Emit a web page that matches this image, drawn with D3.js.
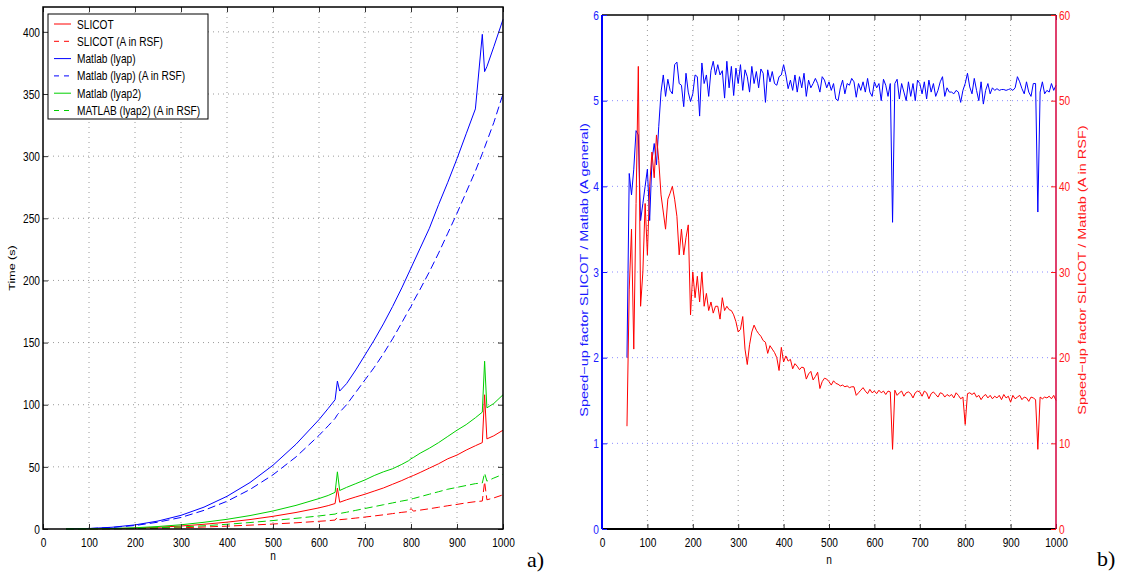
<!DOCTYPE html>
<html>
<head>
<meta charset="utf-8">
<title>SLICOT vs Matlab lyap</title>
<script src="https://d3js.org/d3.v7.min.js"></script>
<style>
  body { margin: 0; background: #fff; }
  text { font-family: "Liberation Sans", Arial, sans-serif; }
</style>
</head>
<body>
<svg id="chart" width="1122" height="577"></svg>
<script>
// ---- a) timings (seconds) ----
var nTime = [50, 100, 150, 200, 250, 300, 350, 400, 450, 500, 550, 600, 620, 635, 640, 645, 660, 680, 700, 720,
             740, 760, 780, 795, 800, 805, 820, 840, 860, 880, 900, 920, 940, 955, 960, 965, 980, 1000];

var timeSlicot = [0.01, 0.07, 0.3, 0.7, 1.4, 2.4, 3.8, 5.5, 7.6, 10.2, 13.3, 17, 18.8, 20.5, 33, 21.5, 23.5, 25.8, 28, 30.5,
                  33, 36, 39, 41.5, 42.3, 43, 45.5, 49, 52.5, 56.5, 59.5, 63.5, 67, 69.5, 108, 72.5, 75, 79.5];
var timeSlicotRsf = [0, 0.03, 0.1, 0.3, 0.6, 1, 1.6, 2.3, 3.1, 4, 5, 6.2, 6.7, 7.2, 9.5, 7.5, 8, 8.8, 9.6, 10.5,
                     11.4, 12.4, 13.4, 14, 16.5, 14.4, 15.2, 16.3, 17.5, 18.7, 19.8, 21, 22, 22.5, 38, 23.5, 25, 27.5];
var timeLyap = [0.05, 0.4, 1.4, 3.3, 6.4, 11, 17.6, 26.3, 37.4, 51.3, 68.2, 88, 97, 104, 119, 111, 117, 128, 140, 152,
                165, 179, 194, 206, 210, 214, 226, 242, 261, 279, 298, 318, 338, 398, 368, 372, 388, 410];
var timeLyapRsf = [0.04, 0.35, 1.2, 2.8, 5.5, 9.3, 15, 22.3, 31.8, 43.6, 58, 75.3, 83, 89, 92, 94, 100, 110, 120, 130,
                   141, 153, 166, 176, 179, 183, 193, 207, 222, 238, 254, 271, 288, 302, 307, 312, 327, 350];
var timeLyap2 = [0.01, 0.1, 0.4, 1, 2, 3.4, 5.4, 7.8, 10.8, 14.5, 19, 24.5, 27, 29.5, 46, 31, 33.5, 36.5, 39.5, 43,
                 46, 48.5, 52, 55, 56.5, 57.5, 61, 65, 69.5, 74.5, 79.5, 84, 89.5, 94, 135, 97.5, 101, 108];
var timeLyap2Rsf = [0.01, 0.05, 0.2, 0.5, 1, 1.7, 2.6, 3.8, 5.2, 6.8, 8.6, 10.5, 11.4, 12, 12.8, 12.5, 13.5, 15, 16.5, 18,
                    19.5, 21, 22.5, 23.5, 24, 24.5, 26, 28, 30, 32, 33.5, 35, 36.5, 37, 45, 38.5, 41, 44];

var timeSeries = [
  {name: "SLICOT", values: timeSlicot, color: "#ff0000", dash: null},
  {name: "SLICOT (A in RSF)", values: timeSlicotRsf, color: "#ff0000", dash: "8,4"},
  {name: "Matlab (lyap)", values: timeLyap, color: "#0000ff", dash: null},
  {name: "Matlab (lyap) (A in RSF)", values: timeLyapRsf, color: "#0000ff", dash: "8,4"},
  {name: "Matlab (lyap2)", values: timeLyap2, color: "#00d000", dash: null},
  {name: "MATLAB (lyap2) (A in RSF)", values: timeLyap2Rsf, color: "#00d000", dash: "8,4"}
];

// ---- b) speed-up factors, n = 55, 60, ..., 1000 ----
var speedN = d3.range(55, 1005, 5);

var speedGeneral = [
  2.0, 4.15, 3.9, 4.2, 4.65, 4.6, 3.6, 3.8, 4.0, 4.2, 3.6, 4.3, 4.5, 4.25, 4.7, 5.1, 5.3, 5.05, 5.25, 5.12,
  5.08, 5.42, 5.45, 5.2, 5.18, 4.93, 5.32, 5.1, 4.99, 5.08, 5.3, 5.28, 4.82, 5.44, 5.2, 5.3, 5.05, 5.35, 5.46, 5.3,
  5.42, 5.3, 5.35, 5.03, 5.46, 5.15, 5.4, 5.06, 5.38, 5.2, 5.42, 5.12, 5.36, 5.28, 5.1, 5.4, 5.2, 5.34, 5.15, 5.37,
  5.32, 4.98, 5.36, 5.22, 5.34, 5.2, 5.18, 5.28, 5.3, 5.42, 5.3, 5.14, 5.24, 5.12, 5.3, 5.1, 5.28, 5.15, 5.32, 5.05,
  5.24, 5.15, 5.2, 5.26, 5.2, 5.1, 5.28, 5.24, 5.15, 5.22, 5.12, 5.2, 5.02, 5.0, 5.15, 5.24, 5.08, 5.2, 5.18, 5.26,
  5.22, 5.04, 5.2, 5.12, 5.22, 5.1, 5.26, 5.1, 5.05, 5.22, 5.15, 5.2, 5.0, 5.25, 5.18, 5.05, 5.2, 3.58, 5.2, 5.25,
  5.02, 5.2, 5.1, 5.0, 5.22, 5.05, 5.2, 5.0, 5.24, 5.2, 5.08, 5.22, 5.02, 5.24, 5.1, 5.2, 5.05, 5.12, 5.22, 5.28,
  5.05, 5.15, 5.1, 5.1, 5.08, 5.12, 5.1, 4.98, 5.12, 5.2, 5.32, 5.16, 5.08, 5.26, 5.12, 5.0, 5.22, 4.96, 5.12, 5.2,
  5.08, 5.15, 5.12, 5.14, 5.12, 5.13, 5.13, 5.12, 5.13, 5.14, 5.12, 5.15, 5.28, 5.22, 5.14, 5.08, 5.22, 5.1, 5.05, 5.2,
  5.2, 3.7, 5.1, 5.22, 5.08, 5.12, 5.1, 5.2, 5.12, 5.18
];

var speedRsf = [
  12, 28, 35, 21, 38, 54, 26, 30, 38, 32, 40, 44, 41, 46, 43, 39, 37, 35, 38.5, 39.2,
  40, 38.5, 36.5, 32, 35, 32, 34, 35.5, 25, 30, 27, 29.5, 26.5, 30, 26, 27.5, 25.5, 26.5, 25.2, 26,
  26, 24.5, 27, 25.5, 26, 25.6, 25.5, 25, 24.2, 23, 23.3, 24.8, 21, 19.2, 21.5, 23, 23.8, 23.2, 22.8, 22.5,
  22, 21.8, 20.5, 21.4, 21, 20.6, 20, 18.5, 21.2, 19.5, 20.2, 19.6, 19.8, 18.7, 19.3, 19, 18.6, 18.9, 18.8, 17.5,
  18.1, 18.4, 17.4, 17.8, 18.3, 16.4, 17.2, 17.6, 17.5, 17.2, 16.8, 17.3, 17, 16.9, 16.7, 16.8, 16.6, 16.7, 16.5, 16.6,
  16.6, 15.6, 15.9, 16.2, 16.5, 16.1, 15.8, 16.3, 15.9, 16.1, 15.8, 16.2, 15.9, 16.1, 15.7, 16.1, 16, 9.3, 16.2, 15.6,
  15.9, 16.1, 15.5, 15.9, 16, 15.8, 15.3, 15.9, 16.1, 16, 15.5, 16.1, 15.9, 15.2, 15.8, 16, 15.7, 15.4, 15.9, 15.8,
  15.4, 15.7, 15.5, 15.7, 15.3, 15.9, 15.6, 15.2, 15.4, 12.2, 15.8, 15.9, 15.7, 15.9, 15.4, 15.6, 15.1, 15.5, 15.7, 15.3,
  15.6, 15.2, 15.5, 15.3, 15.6, 15.1, 15.7, 15.3, 15.5, 14.8, 15.6, 15.2, 15.4, 15.6, 15.1, 15.4, 15.3, 14.9, 15.4, 15.3,
  15.1, 9.3, 15.4, 15.2, 15.4, 15.3, 15.5, 15.2, 15.6, 15.0
];

var nTicks = [0, 100, 200, 300, 400, 500, 600, 700, 800, 900, 1000];
var timeTicks = [0, 50, 100, 150, 200, 250, 300, 350, 400];
var speedTicks = [0, 1, 2, 3, 4, 5, 6];
var rsfTicks = [0, 10, 20, 30, 40, 50, 60];

var svg = d3.select("#chart");
var tickLen = 5;
var squeeze = 0.78;   // the figure text is horizontally narrow
var fmt = d3.format("d");

// ================= panel a =================
var a = {left: 43, right: 503, top: 7, bottom: 529};
var xa = d3.scaleLinear().domain([0, 1000]).range([a.left, a.right]);
var ya = d3.scaleLinear().domain([0, 420]).range([a.bottom, a.top]);

var ga = svg.append("g");

// grid
ga.selectAll(".vgrid").data(nTicks.slice(1, -1)).enter().append("line")
    .attr("x1", function(d) { return xa(d); }).attr("x2", function(d) { return xa(d); })
    .attr("y1", a.top).attr("y2", a.bottom)
    .attr("stroke", "#9a9a9a").attr("stroke-dasharray", "1,4");
ga.selectAll(".hgrid").data(timeTicks.slice(1)).enter().append("line")
    .attr("x1", a.left).attr("x2", a.right)
    .attr("y1", function(d) { return ya(d); }).attr("y2", function(d) { return ya(d); })
    .attr("stroke", "#9a9a9a").attr("stroke-dasharray", "1,4");

// series
var lineA = d3.line()
    .x(function(d, i) { return xa(nTime[i]); })
    .y(function(d) { return ya(d); });

ga.selectAll(".series").data(timeSeries).enter().append("path")
    .attr("fill", "none")
    .attr("stroke", function(d) { return d.color; })
    .attr("stroke-width", 1)
    .attr("stroke-dasharray", function(d) { return d.dash; })
    .attr("d", function(d) { return lineA(d.values); });

// axes (inward ticks, box)
ga.append("g").attr("transform", "translate(0," + a.bottom + ")")
    .call(d3.axisBottom(xa).tickValues(nTicks).tickFormat(fmt).tickSizeInner(-tickLen).tickSizeOuter(0).tickPadding(9))
    .call(styleAxis, "#000");
ga.append("g").attr("transform", "translate(0," + a.top + ")")
    .call(d3.axisTop(xa).tickValues(nTicks).tickSizeInner(-tickLen).tickSizeOuter(0).tickFormat(""))
    .call(styleAxis, "#000");
ga.append("g").attr("transform", "translate(" + a.left + ",0)")
    .call(d3.axisLeft(ya).tickValues(timeTicks).tickFormat(fmt).tickSizeInner(-tickLen).tickSizeOuter(0).tickPadding(3))
    .call(styleAxis, "#000");
ga.append("g").attr("transform", "translate(" + a.right + ",0)")
    .call(d3.axisRight(ya).tickValues(timeTicks).tickSizeInner(-tickLen).tickSizeOuter(0).tickFormat(""))
    .call(styleAxis, "#000");
ga.append("rect")
    .attr("x", a.left).attr("y", a.top)
    .attr("width", a.right - a.left).attr("height", a.bottom - a.top)
    .attr("fill", "none").attr("stroke", "#000").attr("stroke-width", 1.5);

ga.append("text")
    .attr("transform", "translate(" + ((a.left + a.right) / 2) + ",560) scale(" + squeeze + ",1)")
    .attr("text-anchor", "middle").attr("font-size", 13)
    .text("n");
ga.append("text")
    .attr("transform", "translate(15," + ((a.top + a.bottom) / 2) + ") rotate(-90) scale(1," + squeeze + ")")
    .attr("text-anchor", "middle").attr("font-size", 12.5)
    .text("Time (s)");

// legend
var legend = ga.append("g");
legend.append("rect")
    .attr("x", 48).attr("y", 14).attr("width", 160).attr("height", 105)
    .attr("fill", "#fff").attr("stroke", "#000").attr("stroke-width", 1);
var legendRow = legend.selectAll(".row").data(timeSeries).enter().append("g")
    .attr("transform", function(d, i) { return "translate(0," + (24 + i * 17.3) + ")"; });
legendRow.append("line")
    .attr("x1", 54).attr("x2", 71).attr("y1", 0).attr("y2", 0)
    .attr("stroke", function(d) { return d.color; })
    .attr("stroke-dasharray", function(d) { return d.dash ? "5,5" : null; });
legendRow.append("text")
    .attr("transform", "translate(77,4.5) scale(" + squeeze + ",1)")
    .attr("font-size", 13)
    .text(function(d) { return d.name; });

svg.append("text")
    .attr("x", 527).attr("y", 567)
    .attr("font-size", 22)
    .style("font-family", "'Liberation Serif', 'DejaVu Serif', serif")
    .text("a)");

// ================= panel b =================
var b = {left: 602, right: 1056, top: 15, bottom: 529};
var xb = d3.scaleLinear().domain([0, 1000]).range([b.left, b.right]);
var yb = d3.scaleLinear().domain([0, 6]).range([b.bottom, b.top]);
var yr = d3.scaleLinear().domain([0, 60]).range([b.bottom, b.top]);

var gb = svg.append("g");

gb.selectAll(".vgrid").data(nTicks.slice(1, -1)).enter().append("line")
    .attr("x1", function(d) { return xb(d); }).attr("x2", function(d) { return xb(d); })
    .attr("y1", b.top).attr("y2", b.bottom)
    .attr("stroke", "#9a9a9a").attr("stroke-dasharray", "1,4");
gb.selectAll(".hgrid").data(speedTicks.slice(1, -1)).enter().append("line")
    .attr("x1", b.left).attr("x2", b.right)
    .attr("y1", function(d) { return yb(d); }).attr("y2", function(d) { return yb(d); })
    .attr("stroke", "#8c8cff").attr("stroke-dasharray", "1,4");

var lineGeneral = d3.line()
    .x(function(d, i) { return xb(speedN[i]); })
    .y(function(d) { return yb(d); });
var lineRsf = d3.line()
    .x(function(d, i) { return xb(speedN[i]); })
    .y(function(d) { return yr(d); });

gb.append("path").datum(speedGeneral)
    .attr("fill", "none").attr("stroke", "#0000ff").attr("stroke-width", 1)
    .attr("d", lineGeneral);
gb.append("path").datum(speedRsf)
    .attr("fill", "none").attr("stroke", "#ff0000").attr("stroke-width", 1)
    .attr("d", lineRsf);

gb.append("g").attr("transform", "translate(0," + b.bottom + ")")
    .call(d3.axisBottom(xb).tickValues(nTicks).tickFormat(fmt).tickSizeInner(-tickLen).tickSizeOuter(0).tickPadding(9))
    .call(styleAxis, "#000");
gb.append("g").attr("transform", "translate(0," + b.top + ")")
    .call(d3.axisTop(xb).tickValues(nTicks).tickSizeInner(-tickLen).tickSizeOuter(0).tickFormat(""))
    .call(styleAxis, "#000");
gb.append("line")
    .attr("x1", b.left).attr("x2", b.right).attr("y1", b.top).attr("y2", b.top)
    .attr("stroke", "#000").attr("stroke-width", 1.5);
gb.append("line")
    .attr("x1", b.left).attr("x2", b.right).attr("y1", b.bottom).attr("y2", b.bottom)
    .attr("stroke", "#000").attr("stroke-width", 2);

gb.append("g").attr("transform", "translate(" + b.left + ",0)")
    .call(d3.axisLeft(yb).tickValues(speedTicks).tickFormat(fmt).tickSizeInner(-tickLen).tickSizeOuter(0).tickPadding(3))
    .call(styleAxis, "#1a1aff");
gb.append("line")
    .attr("x1", b.left).attr("x2", b.left).attr("y1", b.top).attr("y2", b.bottom)
    .attr("stroke", "#0000ff").attr("stroke-width", 2);

gb.append("g").attr("transform", "translate(" + b.right + ",0)")
    .call(d3.axisRight(yr).tickValues(rsfTicks).tickFormat(fmt).tickSizeInner(-tickLen).tickSizeOuter(0).tickPadding(3))
    .call(styleAxis, "#ff1a1a");
gb.append("line")
    .attr("x1", b.right).attr("x2", b.right).attr("y1", b.top).attr("y2", b.bottom)
    .attr("stroke", "#d6003c").attr("stroke-width", 1.5);

gb.append("text")
    .attr("transform", "translate(" + ((b.left + b.right) / 2) + ",564) scale(" + squeeze + ",1)")
    .attr("text-anchor", "middle").attr("font-size", 13)
    .text("n");
gb.append("text")
    .attr("transform", "translate(588," + ((b.top + b.bottom) / 2 - 2) + ") rotate(-90) scale(1," + squeeze + ")")
    .attr("text-anchor", "middle").attr("font-size", 14.5).attr("fill", "#1a1aff")
    .text("Speed\u2212up factor SLICOT / Matlab (A general)");
gb.append("text")
    .attr("transform", "translate(1086," + ((b.top + b.bottom) / 2 - 2) + ") rotate(-90) scale(1," + squeeze + ")")
    .attr("text-anchor", "middle").attr("font-size", 14.5).attr("fill", "#ff1a1a")
    .text("Speed\u2212up factor SLICOT / Matlab (A in RSF)");

svg.append("text")
    .attr("x", 1097).attr("y", 566)
    .attr("font-size", 22)
    .style("font-family", "'Liberation Serif', 'DejaVu Serif', serif")
    .text("b)");

function styleAxis(sel, color) {
  sel.select(".domain").remove();
  sel.selectAll(".tick line").attr("stroke", color === "#000" ? "#333" : color);
  sel.selectAll(".tick text")
      .attr("fill", color)
      .attr("font-size", 13)
      .each(function() {
        var t = d3.select(this);
        var x = +t.attr("x") || 0;
        t.attr("x", x / squeeze).attr("transform", "scale(" + squeeze + ",1)");
      });
}
</script>
</body>
</html>
